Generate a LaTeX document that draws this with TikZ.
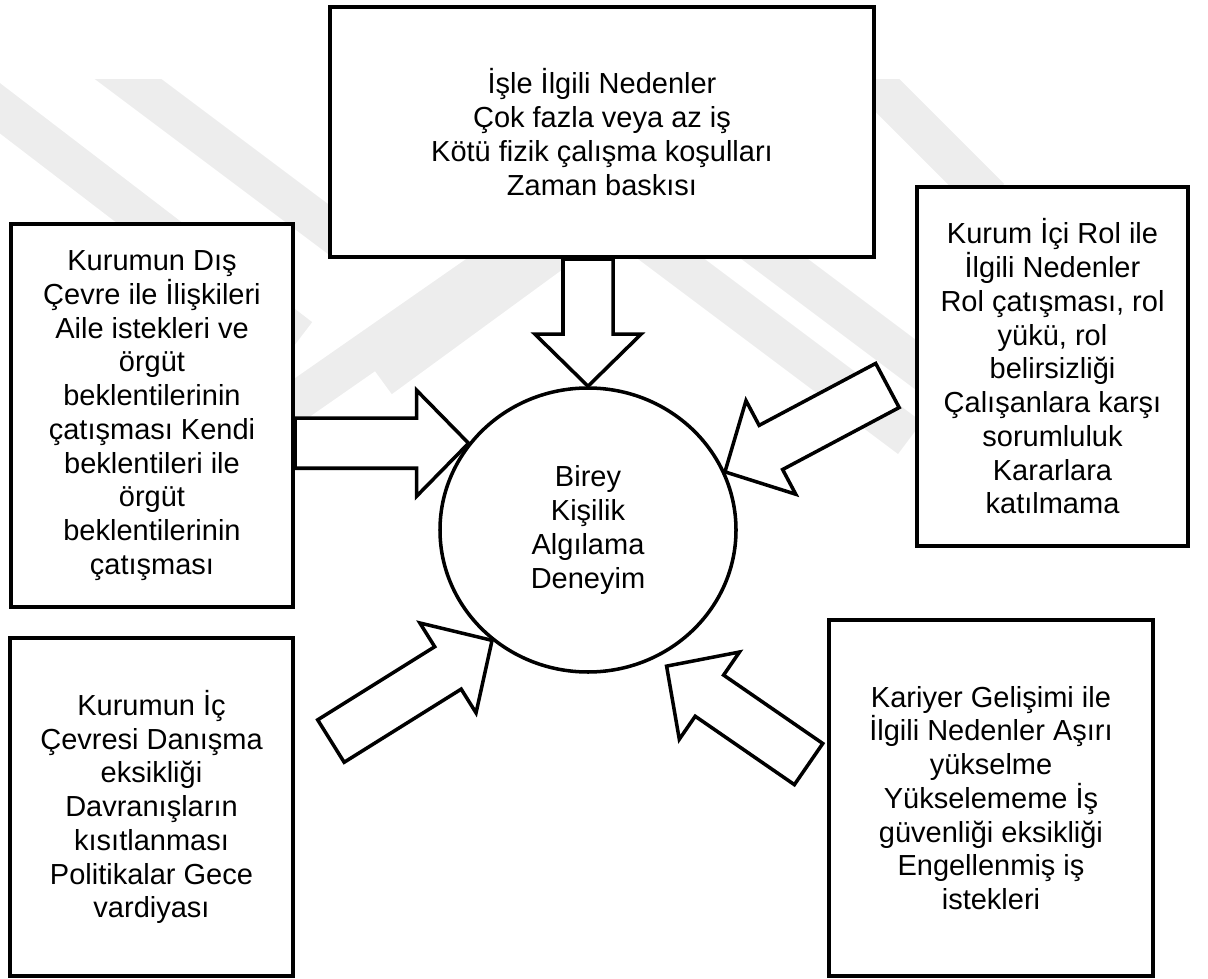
\documentclass[tikz,border=0pt]{standalone}
\usepackage{fontspec}
\setmainfont{Liberation Sans}
\usetikzlibrary{calc,shapes.geometric,backgrounds}

\newcommand{\yazi}{\fontsize{16.5}{19.2}\selectfont}

% Kalın uçlu blok ok: #1 kuyruk, #2 uç
\newcommand{\blokok}[2]{%
	\draw[blokcizgi] (#2)
		-- ($(#2)!10.4mm!(#1)!10.6mm!90:(#1)$)
		-- ($(#2)!10.4mm!(#1)!5mm!90:(#1)$)
		-- ($(#1)!5mm!-90:(#2)$)
		-- ($(#1)!5mm!90:(#2)$)
		-- ($(#2)!10.4mm!(#1)!5mm!-90:(#1)$)
		-- ($(#2)!10.4mm!(#1)!10.6mm!-90:(#1)$)
		-- cycle;
}

\tikzset{
	kutu/.style={draw, fill=white, line width=2.3pt, inner sep=0pt, align=center, font=\yazi},
	merkez/.style={ellipse, draw, fill=white, line width=2pt, inner sep=0pt, align=center, font=\yazi},
	blokcizgi/.style={draw, fill=white, line width=2pt, line join=miter},
	filigran/.style={black!7, line width=8mm, line cap=butt},
}

\begin{document}
\begin{tikzpicture}[x=0.2mm, y=0.2mm]
	\useasboundingbox (0,0) rectangle (1208,978);

	% Ortadaki birey
	\node[merkez, minimum width=59.2mm, minimum height=56.8mm] (birey) at (588,448)
		{Birey\\Kişilik\\Algılama\\Deneyim};

	% Nedenler kutuları
	\node[kutu, minimum width=108.8mm, minimum height=50mm] (isle) at (602,846)
		{İşle İlgili Nedenler\\Çok fazla veya az iş\\Kötü fizik çalışma koşulları\\Zaman baskısı};
	\node[kutu, minimum width=56.4mm, minimum height=76.6mm] (dis) at (152,562.5)
		{Kurumun Dış\\Çevre ile İlişkileri\\Aile istekleri ve\\örgüt\\beklentilerinin\\çatışması Kendi\\beklentileri ile\\örgüt\\beklentilerinin\\çatışması};
	\node[kutu, minimum width=56.6mm, minimum height=67.6mm] (ic) at (151.5,171)
		{Kurumun İç\\Çevresi Danışma\\eksikliği\\Davranışların\\kısıtlanması\\Politikalar Gece\\vardiyası};
	\node[kutu, minimum width=54.2mm, minimum height=71.8mm] (rol) at (1052.5,611.5)
		{Kurum İçi Rol ile\\İlgili Nedenler\\Rol çatışması, rol\\yükü, rol\\belirsizliği\\Çalışanlara karşı\\sorumluluk\\Kararlara\\katılmama};
	\node[kutu, minimum width=64.8mm, minimum height=71.2mm] (kariyer) at (991,180)
		{Kariyer Gelişimi ile\\İlgili Nedenler Aşırı\\yükselme\\Yükselememe İş\\güvenliği eksikliği\\Engellenmiş iş\\istekleri};

	% Okların uç ve kuyruk noktaları
	\coordinate (k1) at (isle.south -| birey.north);
	\coordinate (k2) at (dis.east |- birey.144);
	\coordinate (u3) at (birey.23);
	\coordinate (k3) at ($(u3)+(28:36.8mm)$);
	\coordinate (u4) at (birey.229);
	\coordinate (k4) at ($(u4)+(212:38mm)$);
	\coordinate (u5) at ($(birey.300)+(300:2.4mm)$);
	\coordinate (k5) at ($(u5)+(-34.6:34.5mm)$);

	\begin{pgfonlayer}{background}
		% Soluk filigran şeritleri
		\begin{scope}
			\clip (0,0) rectangle (1208,898);
			\draw[filigran] (-20,885) -- (300,640);
			\draw[filigran] (100,920) -- (340,740);
			\draw[filigran] (280,565) -- (560,760);
			\draw[filigran] (380,600) -- (640,790);
			\draw[filigran] (590,780) -- (910,540);
			\draw[filigran] (680,790) -- (960,580);
			\draw[filigran] (860,910) -- (990,780);
		\end{scope}

		% Oklar
		\blokok{k1}{birey.north}
		\blokok{k2}{birey.144}
		\blokok{k3}{u3}
		\blokok{k4}{u4}
		\blokok{k5}{u5}
	\end{pgfonlayer}
\end{tikzpicture}
\end{document}
